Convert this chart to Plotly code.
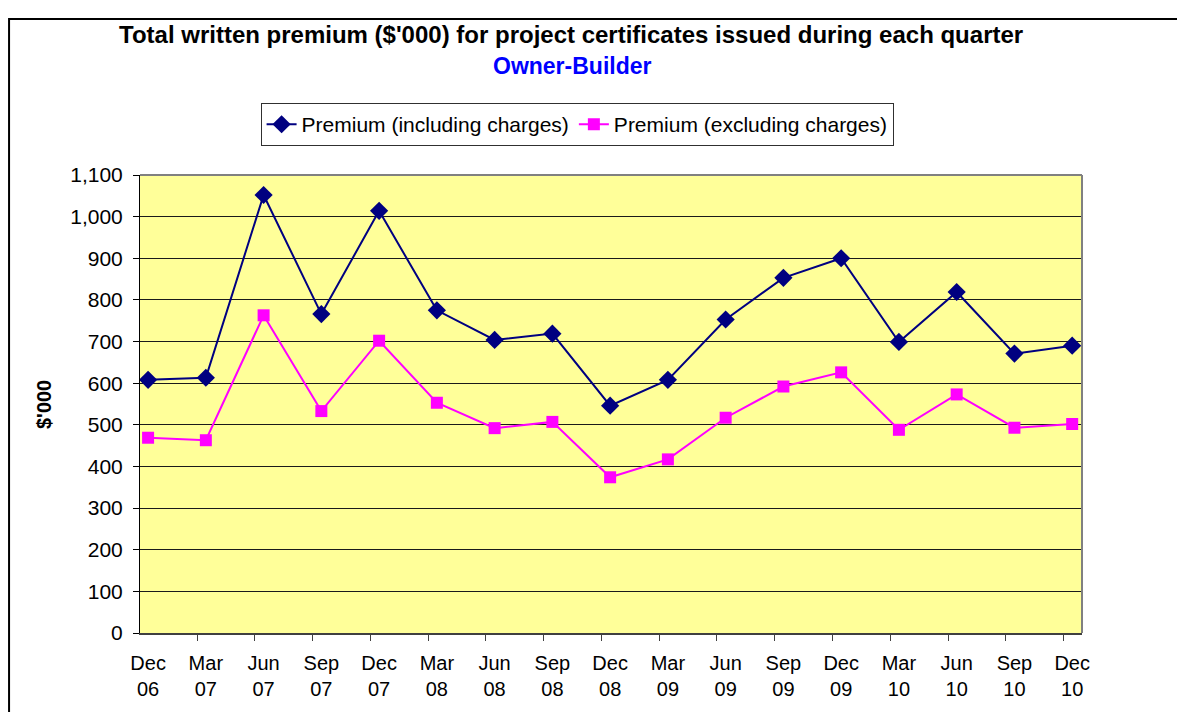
import plotly.graph_objects as go

quarters = ["Dec<br>06", "Mar<br>07", "Jun<br>07", "Sep<br>07", "Dec<br>07", "Mar<br>08",
            "Jun<br>08", "Sep<br>08", "Dec<br>08", "Mar<br>09", "Jun<br>09", "Sep<br>09",
            "Dec<br>09", "Mar<br>10", "Jun<br>10", "Sep<br>10", "Dec<br>10"]
incl = [608, 613, 1052, 766, 1014, 775, 704, 719, 546, 608, 753, 853, 900, 699, 819, 671, 690]
excl = [469, 463, 763, 533, 702, 553, 492, 507, 374, 417, 517, 592, 626, 488, 573, 493, 502]
y_ticks = [0, 100, 200, 300, 400, 500, 600, 700, 800, 900, 1000, 1100]

idx = list(range(len(quarters)))
FONT = "Liberation Sans, Arial, sans-serif"

fig = go.Figure()
fig.add_trace(go.Scatter(
    x=idx, y=incl, name="Premium (including charges)", mode="lines+markers",
    line=dict(color="#000080", width=2),
    marker=dict(symbol="diamond", size=14, color="#000080"),
))
fig.add_trace(go.Scatter(
    x=idx, y=excl, name="Premium (excluding charges)", mode="lines+markers",
    line=dict(color="#FF00FF", width=2),
    marker=dict(symbol="square", size=12, color="#FF00FF"),
))
# invisible helper trace for offset tick marks axis
fig.add_trace(go.Scatter(x=[idx[0]], y=[0], xaxis="x2", mode="markers",
                         marker=dict(opacity=0), showlegend=False, hoverinfo="skip"))

xr = [-0.14, 16.17]
fig.update_layout(
    width=1177, height=704,
    margin=dict(l=132, r=103, t=167, b=79),
    paper_bgcolor="white", plot_bgcolor="#FFFF99",
    font=dict(family=FONT, size=21, color="black"),
    showlegend=True,
    legend=dict(orientation="h", x=0.464, xanchor="center", y=1.157, yanchor="top",
                bordercolor="#303030", borderwidth=1, bgcolor="white",
                font=dict(size=21), tracegroupgap=0),
    xaxis=dict(range=xr, tickmode="array", tickvals=idx, ticktext=quarters,
               ticks="", showgrid=False, zeroline=False, showline=False,
               tickfont=dict(size=20), ticklabelstandoff=16),
    xaxis2=dict(range=xr, overlaying="x", side="bottom", anchor="y",
                tickmode="array", tickvals=[i - 0.15 for i in idx],
                ticks="outside", ticklen=6, tickcolor="#404040", tickwidth=1,
                showticklabels=False, showgrid=False, zeroline=False,
                showline=True, linecolor="#404040", linewidth=2),
    yaxis=dict(range=[0, 1100], tickmode="array", tickvals=y_ticks,
               tickformat=",d", ticks="outside", ticklen=6, tickcolor="#000000",
               showgrid=True, gridcolor="#1a1a1a", gridwidth=1,
               zeroline=False, showline=True, linecolor="#000000", linewidth=1,
               mirror=False, ticklabelstandoff=6,
               tickfont=dict(size=21)),
)

# plot-area gray border (top & right)
fig.add_shape(type="line", xref="paper", yref="paper", x0=0, x1=1, y0=1, y1=1,
              line=dict(color="#808080", width=2))
fig.add_shape(type="line", xref="paper", yref="paper", x0=1, x1=1, y0=0, y1=1,
              line=dict(color="#808080", width=2))
# outer chart frame
fig.add_shape(type="rect", xref="paper", yref="paper", x0=-0.139, x1=1.3,
              y0=-0.3, y1=1.3406, line=dict(color="#000000", width=2), layer="above")

fig.add_annotation(xref="paper", yref="paper", x=(44 - 140) / 942, y=(633 - 405) / 458,
                   showarrow=False, text="<b>$'000</b>", textangle=-90,
                   font=dict(size=20, color="black"), xanchor="center", yanchor="middle")
fig.add_annotation(xref="paper", yref="paper", x=(571 - 140) / 942, y=(633 - 34) / 458,
                   showarrow=False,
                   text="<b>Total written premium ($'000) for project certificates issued during each quarter</b>",
                   font=dict(size=24, color="black"), xanchor="center", yanchor="middle")
fig.add_annotation(xref="paper", yref="paper", x=(572 - 140) / 942, y=(633 - 66) / 458,
                   showarrow=False, text="<b>Owner-Builder</b>",
                   font=dict(size=23, color="#0000FF"), xanchor="center", yanchor="middle")

fig.write_html("out.html")
